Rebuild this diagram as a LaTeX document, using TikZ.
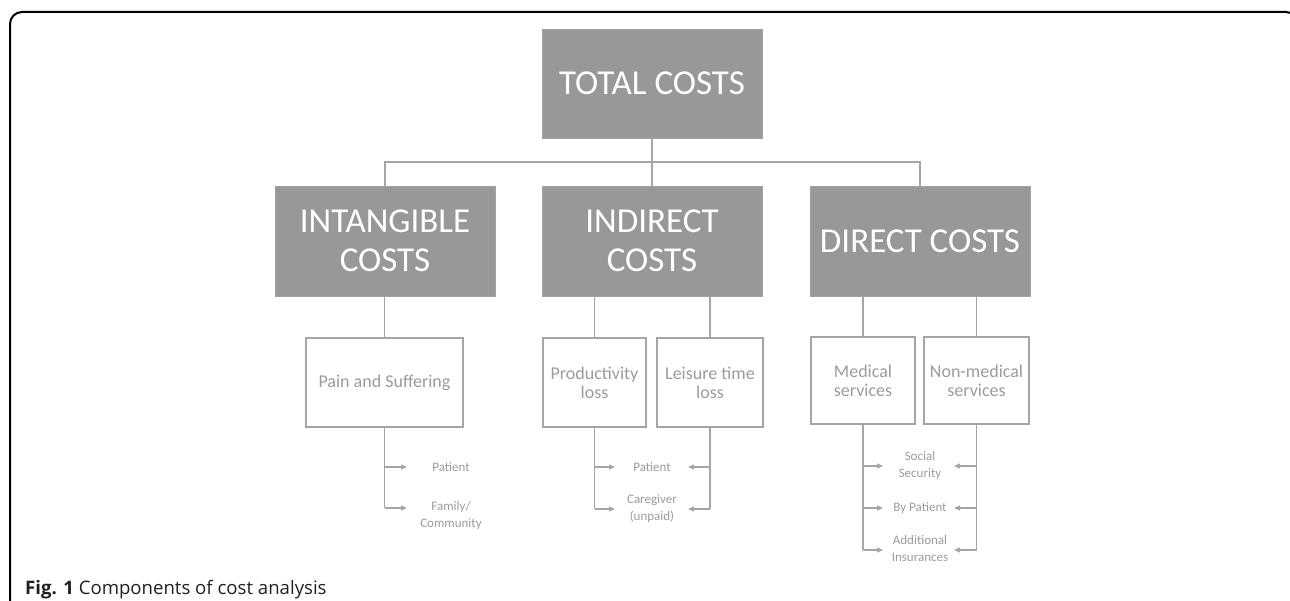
\documentclass[tikz,border=0pt]{standalone}
\usepackage{fontspec}
\setmainfont{Carlito}
\newfontfamily\captionfont{Open Sans}
\usetikzlibrary{arrows.meta}
\definecolor{boxfill}{RGB}{152,152,152}
\definecolor{linegray}{RGB}{165,165,165}
\definecolor{textgray}{RGB}{155,155,155}
\definecolor{captionblack}{RGB}{35,31,32}
\tikzset{
  bigbox/.style={draw=boxfill!90!white, fill=boxfill, text=white, align=center,
    inner sep=0pt, font=\fontsize{35}{39}\selectfont, line width=0.8pt},
  subbox/.style={draw=linegray, line width=1.2pt, text=textgray, align=center,
    inner sep=0pt, font=\fontsize{18}{19}\selectfont},
  leaf/.style={text=textgray, align=center, inner sep=0pt,
    font=\fontsize{13}{17}\selectfont},
  conn/.style={draw=linegray, line width=1.2pt},
  arr/.style={conn, -{Triangle[length=6pt,width=5pt]}},
}
\begin{document}
\begin{tikzpicture}[x=1pt, y=-1pt]
\useasboundingbox (0,0) rectangle (1290,601);
\begin{scope}
  \clip (0,0) rectangle (1290,601);
  \draw[line width=2pt, rounded corners=12pt] (10,620) -- (10,12) -- (1298,12) -- (1298,620);
\end{scope}

% top level
\node[bigbox, minimum width=220pt, minimum height=109pt] (total) at (652,83.5) {TOTAL COSTS};

% second level
\node[bigbox, minimum width=220pt, minimum height=110pt] (intang) at (385,241) {INTANGIBLE\\COSTS};
\node[bigbox, minimum width=220pt, minimum height=110pt] (indir) at (652,241) {INDIRECT\\COSTS};
\node[bigbox, minimum width=220pt, minimum height=110pt] (direct) at (920,241) {DIRECT COSTS};

\coordinate (bus) at (652,162);
\draw[conn] (total.south) -- (indir.north);
\draw[conn] (intang.north) |- (bus) -| (direct.north);

% third level
\node[subbox, minimum width=157pt, minimum height=89pt] (pain) at (384.5,382.5) {Pain and Suffering};
\node[subbox, minimum width=103pt, minimum height=89pt] (prod) at (594.5,382.5) {Productivity\\loss};
\node[subbox, minimum width=106pt, minimum height=89pt] (leis) at (710,382.5) {Leisure time\\loss};
\node[subbox, minimum width=104pt, minimum height=87pt] (med) at (863,380.5) {Medical\\services};
\node[subbox, minimum width=105pt, minimum height=87pt] (nonmed) at (976.5,380.5) {Non-medical\\services};

\draw[conn] (intang.south -| pain.north) -- (pain.north);
\draw[conn] (indir.south -| prod.north) -- (prod.north);
\draw[conn] (indir.south -| leis.north) -- (leis.north);
\draw[conn] (direct.south -| med.north) -- (med.north);
\draw[conn] (direct.south -| nonmed.north) -- (nonmed.north);

% intangible cost bearers
\node[leaf] (ipat) at (451,467) {Patient};
\node[leaf] (ifam) at (451,515.5) {Family/\\Community};
\coordinate (ia1) at (407,467);
\coordinate (ia2) at (407,508);
\draw[conn] (pain.south) -- (pain.south |- ia2);
\draw[arr] (pain.south |- ia1) -- (ia1);
\draw[arr] (pain.south |- ia2) -- (ia2);

% indirect cost bearers
\node[leaf] (npat) at (652,467) {Patient};
\node[leaf] (ncare) at (652,509) {Caregiver\\(unpaid)};
\coordinate (pa1) at (615,467);
\coordinate (pa2) at (615,509);
\coordinate (la1) at (688,467);
\coordinate (la2) at (688,509);
\draw[conn] (prod.south) -- (prod.south |- pa2);
\draw[arr] (prod.south |- pa1) -- (pa1);
\draw[arr] (prod.south |- pa2) -- (pa2);
\draw[conn] (leis.south) -- (leis.south |- la2);
\draw[arr] (leis.south |- la1) -- (la1);
\draw[arr] (leis.south |- la2) -- (la2);

% direct cost payers
\node[leaf] (dsoc) at (920,465.5) {Social\\Security};
\node[leaf] (dpat) at (920,508) {By Patient};
\node[leaf] (dadd) at (920,548.5) {Additional\\Insurances};
\coordinate (ma1) at (883,466);
\coordinate (ma2) at (883,508);
\coordinate (ma3) at (883,550);
\coordinate (na1) at (954,466);
\coordinate (na2) at (954,508);
\coordinate (na3) at (954,550);
\draw[conn] (med.south) -- (med.south |- ma3);
\draw[arr] (med.south |- ma1) -- (ma1);
\draw[arr] (med.south |- ma2) -- (ma2);
\draw[arr] (med.south |- ma3) -- (ma3);
\draw[conn] (nonmed.south) -- (nonmed.south |- na3);
\draw[arr] (nonmed.south |- na1) -- (na1);
\draw[arr] (nonmed.south |- na2) -- (na2);
\draw[arr] (nonmed.south |- na3) -- (na3);

% caption
\node[anchor=base west, inner sep=0pt, text=captionblack, font=\captionfont\fontsize{18.6}{22}\selectfont] (cap) at (25,594) {\textbf{Fig. 1} Components of cost analysis};
\end{tikzpicture}
\end{document}
